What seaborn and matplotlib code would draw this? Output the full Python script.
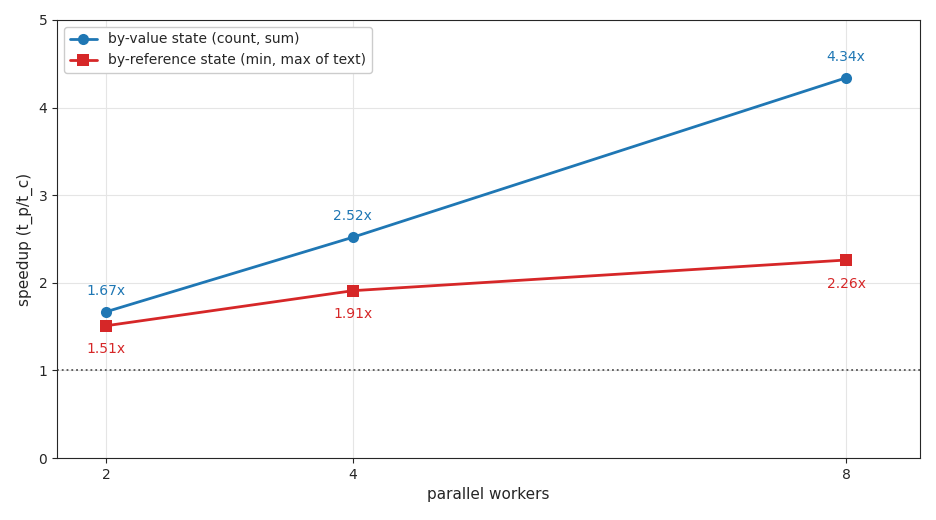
import matplotlib
matplotlib.use("Agg")
import matplotlib.pyplot as plt
import seaborn as sns
import pandas as pd

workers = [2, 4, 8]
by_value = [1.67, 2.52, 4.34]
by_ref = [1.51, 1.91, 2.26]
labels = ["by-value state (count, sum)", "by-reference state (min, max of text)"]

sns.set_style("ticks")
plt.rcParams['font.family'] = ['DejaVu Sans']
fig = plt.figure(figsize=(9.36, 5.2), dpi=100)
ax = fig.add_axes([57/936, 62/520, 863/936, 438/520])

df = pd.DataFrame({"workers": workers * 2, "speedup": by_value + by_ref,
                   "series": [labels[0]] * 3 + [labels[1]] * 3})
blue, red = "#1f77b4", "#d62728"
sns.lineplot(data=df, x="workers", y="speedup", hue="series", style="series",
             markers=["o", "s"], dashes=False, palette=[blue, red],
             markersize=8, linewidth=2, ax=ax, markeredgewidth=0)

for x, y in zip(workers, by_value):
    ax.annotate(f"{y:.2f}x", (x, y), xytext=(0, 10), textcoords="offset points",
                ha="center", va="bottom", color=blue, fontsize=10)
for x, y in zip(workers, by_ref):
    ax.annotate(f"{y:.2f}x", (x, y), xytext=(0, -12), textcoords="offset points",
                ha="center", va="top", color=red, fontsize=10)

ax.axhline(1, color="#555555", linestyle=":", linewidth=1.3)
ax.set_xlim(1.6, 8.6)
ax.set_ylim(0, 5)
ax.set_xticks(workers)
ax.set_yticks([0, 1, 2, 3, 4, 5])
ax.grid(True, color="#e5e5e5", linewidth=0.8)
ax.set_axisbelow(True)
ax.set_xlabel("parallel workers", fontsize=11)
ax.set_ylabel("speedup (t_p/t_c)", fontsize=11)
ax.legend(loc="upper left", fontsize=10, title=None, framealpha=1)
fig.savefig("out.png", dpi=100)
